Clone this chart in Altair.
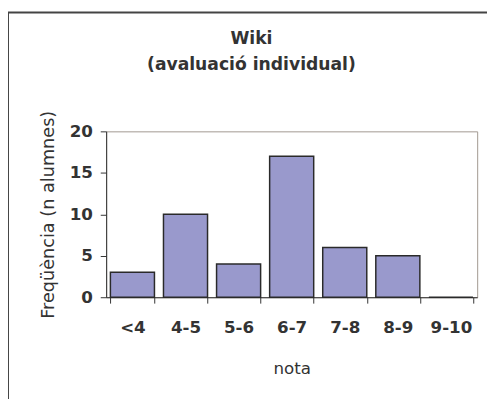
import altair as alt
import pandas as pd

categories = ["<4", "4-5", "5-6", "6-7", "7-8", "8-9", "9-10"]
counts = [3, 10, 4, 17, 6, 5, 0]
title_lines = ["Wiki", "(avaluació individual)"]

df = pd.DataFrame({"nota": categories, "freq": counts})
FONT = "DejaVu Sans"
FS = 17

frame = alt.Chart(pd.DataFrame({"a": [0]})).mark_rect(
    fill="white", fillOpacity=0, stroke="#444444", strokeWidth=2, clip=False
).encode(
    x=alt.value(-100), x2=alt.value(420), y=alt.value(-121), y2=alt.value(320)
)

title1 = alt.Chart(pd.DataFrame({"t": [title_lines[0]]})).mark_text(
    font=FONT, fontSize=17.5, fontWeight="bold", color="#333333",
    align="center", baseline="alphabetic", clip=False
).encode(text="t:N", x=alt.value(148), y=alt.value(-89))

title2 = alt.Chart(pd.DataFrame({"t": [title_lines[1]]})).mark_text(
    font=FONT, fontSize=17.5, fontWeight="bold", color="#333333",
    align="center", baseline="alphabetic", clip=False
).encode(text="t:N", x=alt.value(148), y=alt.value(-62))

bars = alt.Chart(df).mark_bar(
    color="#9999CC", stroke="#2a2a2a", strokeWidth=1.5
).encode(
    x=alt.X("nota:N", sort=categories, title="nota",
            scale=alt.Scale(paddingInner=0.17, paddingOuter=0.08),
            axis=alt.Axis(labelAngle=0, tickBand="extent", labelFont=FONT,
                          labelFontSize=FS, labelFontWeight="bold", labelColor="#333333",
                          labelPadding=17, tickSize=6, tickColor="#333333",
                          domainColor="#333333", titleFont=FONT, titleFontSize=FS,
                          titleFontWeight="normal", titleColor="#333333", titlePadding=26)),
    y=alt.Y("freq:Q", title="Freqüència (n alumnes)",
            scale=alt.Scale(domain=[0, 20]),
            axis=alt.Axis(values=[0, 5, 10, 15, 20], grid=False, labelFont=FONT,
                          labelFontSize=FS, labelFontWeight="bold", labelColor="#333333",
                          labelPadding=8, tickSize=6, tickColor="#333333",
                          domainColor="#333333", titleFont=FONT, titleFontSize=18,
                          titleFontWeight="normal", titleColor="#333333", titlePadding=12)),
)

chart = alt.layer(bars, frame, title1, title2).properties(
    width=378, height=169,
    autosize=alt.AutoSizeParams(type="none"),
    padding={"left": 100, "top": 122, "right": 10, "bottom": 100},
).configure_view(stroke="#a09890", strokeWidth=1)

chart.save("out.html", embed_options={"renderer": "svg", "actions": False})
